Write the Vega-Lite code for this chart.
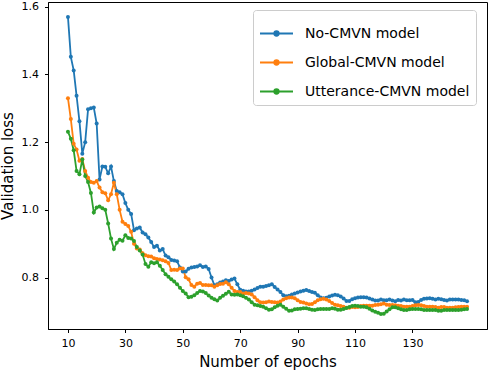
{
"$schema": "https://vega.github.io/schema/vega-lite/v6.json",
"width": 439, "height": 327,
"autosize": {"type": "none"},
"padding": {"left": 48, "top": 2, "right": 1, "bottom": 41},
"background": "white",
"config": {
  "font": "DejaVu Sans",
  "view": {"stroke": "black", "strokeWidth": 1},
  "axis": {"grid": false, "domainColor": "black", "domainWidth": 1, "tickColor": "black", "tickWidth": 1, "tickSize": 3.5, "labelColor": "black", "titleColor": "black", "labelFontSize": 11, "titleFontSize": 15, "titleFontWeight": "normal", "labelFont": "DejaVu Sans", "titleFont": "DejaVu Sans", "labelFlush": false, "labelOverlap": false}
},
"data": {"values": [
{"epoch":10,"model":"No-CMVN model","loss":1.570},{"epoch":11,"model":"No-CMVN model","loss":1.452},{"epoch":12,"model":"No-CMVN model","loss":1.412},{"epoch":13,"model":"No-CMVN model","loss":1.337},{"epoch":14,"model":"No-CMVN model","loss":1.262},{"epoch":15,"model":"No-CMVN model","loss":1.166},{"epoch":16,"model":"No-CMVN model","loss":1.200},{"epoch":17,"model":"No-CMVN model","loss":1.297},{"epoch":18,"model":"No-CMVN model","loss":1.300},{"epoch":19,"model":"No-CMVN model","loss":1.302},
{"epoch":20,"model":"No-CMVN model","loss":1.255},{"epoch":21,"model":"No-CMVN model","loss":1.090},{"epoch":22,"model":"No-CMVN model","loss":1.128},{"epoch":23,"model":"No-CMVN model","loss":1.127},{"epoch":24,"model":"No-CMVN model","loss":1.108},{"epoch":25,"model":"No-CMVN model","loss":1.128},{"epoch":26,"model":"No-CMVN model","loss":1.085},{"epoch":27,"model":"No-CMVN model","loss":1.056},{"epoch":28,"model":"No-CMVN model","loss":1.052},{"epoch":29,"model":"No-CMVN model","loss":1.046},
{"epoch":30,"model":"No-CMVN model","loss":1.020},{"epoch":31,"model":"No-CMVN model","loss":1.000},{"epoch":32,"model":"No-CMVN model","loss":0.988},{"epoch":33,"model":"No-CMVN model","loss":0.940},{"epoch":34,"model":"No-CMVN model","loss":0.945},{"epoch":35,"model":"No-CMVN model","loss":0.948},{"epoch":36,"model":"No-CMVN model","loss":0.933},{"epoch":37,"model":"No-CMVN model","loss":0.928},{"epoch":38,"model":"No-CMVN model","loss":0.918},{"epoch":39,"model":"No-CMVN model","loss":0.905},
{"epoch":40,"model":"No-CMVN model","loss":0.890},{"epoch":41,"model":"No-CMVN model","loss":0.894},{"epoch":42,"model":"No-CMVN model","loss":0.880},{"epoch":43,"model":"No-CMVN model","loss":0.884},{"epoch":44,"model":"No-CMVN model","loss":0.865},{"epoch":45,"model":"No-CMVN model","loss":0.860},{"epoch":46,"model":"No-CMVN model","loss":0.852},{"epoch":47,"model":"No-CMVN model","loss":0.850},{"epoch":48,"model":"No-CMVN model","loss":0.848},{"epoch":49,"model":"No-CMVN model","loss":0.830},
{"epoch":50,"model":"No-CMVN model","loss":0.818},{"epoch":51,"model":"No-CMVN model","loss":0.818},{"epoch":52,"model":"No-CMVN model","loss":0.826},{"epoch":53,"model":"No-CMVN model","loss":0.830},{"epoch":54,"model":"No-CMVN model","loss":0.831},{"epoch":55,"model":"No-CMVN model","loss":0.833},{"epoch":56,"model":"No-CMVN model","loss":0.836},{"epoch":57,"model":"No-CMVN model","loss":0.831},{"epoch":58,"model":"No-CMVN model","loss":0.833},{"epoch":59,"model":"No-CMVN model","loss":0.825},
{"epoch":60,"model":"No-CMVN model","loss":0.800},{"epoch":61,"model":"No-CMVN model","loss":0.777},{"epoch":62,"model":"No-CMVN model","loss":0.780},{"epoch":63,"model":"No-CMVN model","loss":0.785},{"epoch":64,"model":"No-CMVN model","loss":0.788},{"epoch":65,"model":"No-CMVN model","loss":0.792},{"epoch":66,"model":"No-CMVN model","loss":0.790},{"epoch":67,"model":"No-CMVN model","loss":0.794},{"epoch":68,"model":"No-CMVN model","loss":0.797},{"epoch":69,"model":"No-CMVN model","loss":0.780},
{"epoch":70,"model":"No-CMVN model","loss":0.764},{"epoch":71,"model":"No-CMVN model","loss":0.761},{"epoch":72,"model":"No-CMVN model","loss":0.759},{"epoch":73,"model":"No-CMVN model","loss":0.759},{"epoch":74,"model":"No-CMVN model","loss":0.761},{"epoch":75,"model":"No-CMVN model","loss":0.765},{"epoch":76,"model":"No-CMVN model","loss":0.769},{"epoch":77,"model":"No-CMVN model","loss":0.773},{"epoch":78,"model":"No-CMVN model","loss":0.773},{"epoch":79,"model":"No-CMVN model","loss":0.775},
{"epoch":80,"model":"No-CMVN model","loss":0.777},{"epoch":81,"model":"No-CMVN model","loss":0.780},{"epoch":82,"model":"No-CMVN model","loss":0.772},{"epoch":83,"model":"No-CMVN model","loss":0.765},{"epoch":84,"model":"No-CMVN model","loss":0.757},{"epoch":85,"model":"No-CMVN model","loss":0.748},{"epoch":86,"model":"No-CMVN model","loss":0.745},{"epoch":87,"model":"No-CMVN model","loss":0.746},{"epoch":88,"model":"No-CMVN model","loss":0.750},{"epoch":89,"model":"No-CMVN model","loss":0.753},
{"epoch":90,"model":"No-CMVN model","loss":0.756},{"epoch":91,"model":"No-CMVN model","loss":0.759},{"epoch":92,"model":"No-CMVN model","loss":0.761},{"epoch":93,"model":"No-CMVN model","loss":0.763},{"epoch":94,"model":"No-CMVN model","loss":0.760},{"epoch":95,"model":"No-CMVN model","loss":0.757},{"epoch":96,"model":"No-CMVN model","loss":0.755},{"epoch":97,"model":"No-CMVN model","loss":0.748},{"epoch":98,"model":"No-CMVN model","loss":0.741},{"epoch":99,"model":"No-CMVN model","loss":0.739},
{"epoch":100,"model":"No-CMVN model","loss":0.740},{"epoch":101,"model":"No-CMVN model","loss":0.744},{"epoch":102,"model":"No-CMVN model","loss":0.747},{"epoch":103,"model":"No-CMVN model","loss":0.749},{"epoch":104,"model":"No-CMVN model","loss":0.748},{"epoch":105,"model":"No-CMVN model","loss":0.744},{"epoch":106,"model":"No-CMVN model","loss":0.738},{"epoch":107,"model":"No-CMVN model","loss":0.731},{"epoch":108,"model":"No-CMVN model","loss":0.731},{"epoch":109,"model":"No-CMVN model","loss":0.736},
{"epoch":110,"model":"No-CMVN model","loss":0.739},{"epoch":111,"model":"No-CMVN model","loss":0.741},{"epoch":112,"model":"No-CMVN model","loss":0.742},{"epoch":113,"model":"No-CMVN model","loss":0.742},{"epoch":114,"model":"No-CMVN model","loss":0.741},{"epoch":115,"model":"No-CMVN model","loss":0.738},{"epoch":116,"model":"No-CMVN model","loss":0.735},{"epoch":117,"model":"No-CMVN model","loss":0.732},{"epoch":118,"model":"No-CMVN model","loss":0.732},{"epoch":119,"model":"No-CMVN model","loss":0.735},
{"epoch":120,"model":"No-CMVN model","loss":0.733},{"epoch":121,"model":"No-CMVN model","loss":0.733},{"epoch":122,"model":"No-CMVN model","loss":0.735},{"epoch":123,"model":"No-CMVN model","loss":0.732},{"epoch":124,"model":"No-CMVN model","loss":0.730},{"epoch":125,"model":"No-CMVN model","loss":0.734},{"epoch":126,"model":"No-CMVN model","loss":0.732},{"epoch":127,"model":"No-CMVN model","loss":0.735},{"epoch":128,"model":"No-CMVN model","loss":0.733},{"epoch":129,"model":"No-CMVN model","loss":0.733},
{"epoch":130,"model":"No-CMVN model","loss":0.734},{"epoch":131,"model":"No-CMVN model","loss":0.727},{"epoch":132,"model":"No-CMVN model","loss":0.728},{"epoch":133,"model":"No-CMVN model","loss":0.734},{"epoch":134,"model":"No-CMVN model","loss":0.737},{"epoch":135,"model":"No-CMVN model","loss":0.738},{"epoch":136,"model":"No-CMVN model","loss":0.739},{"epoch":137,"model":"No-CMVN model","loss":0.737},{"epoch":138,"model":"No-CMVN model","loss":0.735},{"epoch":139,"model":"No-CMVN model","loss":0.737},
{"epoch":140,"model":"No-CMVN model","loss":0.736},{"epoch":141,"model":"No-CMVN model","loss":0.734},{"epoch":142,"model":"No-CMVN model","loss":0.732},{"epoch":143,"model":"No-CMVN model","loss":0.735},{"epoch":144,"model":"No-CMVN model","loss":0.735},{"epoch":145,"model":"No-CMVN model","loss":0.735},{"epoch":146,"model":"No-CMVN model","loss":0.735},{"epoch":147,"model":"No-CMVN model","loss":0.734},{"epoch":148,"model":"No-CMVN model","loss":0.733},{"epoch":149,"model":"No-CMVN model","loss":0.730},
{"epoch":10,"model":"Global-CMVN model","loss":1.330},{"epoch":11,"model":"Global-CMVN model","loss":1.268},{"epoch":12,"model":"Global-CMVN model","loss":1.195},{"epoch":13,"model":"Global-CMVN model","loss":1.178},{"epoch":14,"model":"Global-CMVN model","loss":1.145},{"epoch":15,"model":"Global-CMVN model","loss":1.150},{"epoch":16,"model":"Global-CMVN model","loss":1.115},{"epoch":17,"model":"Global-CMVN model","loss":1.095},{"epoch":18,"model":"Global-CMVN model","loss":1.082},{"epoch":19,"model":"Global-CMVN model","loss":1.080},
{"epoch":20,"model":"Global-CMVN model","loss":1.085},{"epoch":21,"model":"Global-CMVN model","loss":1.066},{"epoch":22,"model":"Global-CMVN model","loss":1.052},{"epoch":23,"model":"Global-CMVN model","loss":1.049},{"epoch":24,"model":"Global-CMVN model","loss":1.028},{"epoch":25,"model":"Global-CMVN model","loss":1.046},{"epoch":26,"model":"Global-CMVN model","loss":1.080},{"epoch":27,"model":"Global-CMVN model","loss":1.046},{"epoch":28,"model":"Global-CMVN model","loss":1.000},{"epoch":29,"model":"Global-CMVN model","loss":0.965},
{"epoch":30,"model":"Global-CMVN model","loss":0.958},{"epoch":31,"model":"Global-CMVN model","loss":0.952},{"epoch":32,"model":"Global-CMVN model","loss":0.935},{"epoch":33,"model":"Global-CMVN model","loss":0.900},{"epoch":34,"model":"Global-CMVN model","loss":0.886},{"epoch":35,"model":"Global-CMVN model","loss":0.883},{"epoch":36,"model":"Global-CMVN model","loss":0.872},{"epoch":37,"model":"Global-CMVN model","loss":0.866},{"epoch":38,"model":"Global-CMVN model","loss":0.863},{"epoch":39,"model":"Global-CMVN model","loss":0.862},
{"epoch":40,"model":"Global-CMVN model","loss":0.857},{"epoch":41,"model":"Global-CMVN model","loss":0.855},{"epoch":42,"model":"Global-CMVN model","loss":0.853},{"epoch":43,"model":"Global-CMVN model","loss":0.851},{"epoch":44,"model":"Global-CMVN model","loss":0.848},{"epoch":45,"model":"Global-CMVN model","loss":0.843},{"epoch":46,"model":"Global-CMVN model","loss":0.822},{"epoch":47,"model":"Global-CMVN model","loss":0.823},{"epoch":48,"model":"Global-CMVN model","loss":0.822},{"epoch":49,"model":"Global-CMVN model","loss":0.827},
{"epoch":50,"model":"Global-CMVN model","loss":0.827},{"epoch":51,"model":"Global-CMVN model","loss":0.801},{"epoch":52,"model":"Global-CMVN model","loss":0.795},{"epoch":53,"model":"Global-CMVN model","loss":0.778},{"epoch":54,"model":"Global-CMVN model","loss":0.773},{"epoch":55,"model":"Global-CMVN model","loss":0.782},{"epoch":56,"model":"Global-CMVN model","loss":0.784},{"epoch":57,"model":"Global-CMVN model","loss":0.778},{"epoch":58,"model":"Global-CMVN model","loss":0.778},{"epoch":59,"model":"Global-CMVN model","loss":0.777},
{"epoch":60,"model":"Global-CMVN model","loss":0.777},{"epoch":61,"model":"Global-CMVN model","loss":0.773},{"epoch":62,"model":"Global-CMVN model","loss":0.777},{"epoch":63,"model":"Global-CMVN model","loss":0.781},{"epoch":64,"model":"Global-CMVN model","loss":0.782},{"epoch":65,"model":"Global-CMVN model","loss":0.786},{"epoch":66,"model":"Global-CMVN model","loss":0.780},{"epoch":67,"model":"Global-CMVN model","loss":0.770},{"epoch":68,"model":"Global-CMVN model","loss":0.760},{"epoch":69,"model":"Global-CMVN model","loss":0.757},
{"epoch":70,"model":"Global-CMVN model","loss":0.757},{"epoch":71,"model":"Global-CMVN model","loss":0.753},{"epoch":72,"model":"Global-CMVN model","loss":0.754},{"epoch":73,"model":"Global-CMVN model","loss":0.753},{"epoch":74,"model":"Global-CMVN model","loss":0.750},{"epoch":75,"model":"Global-CMVN model","loss":0.742},{"epoch":76,"model":"Global-CMVN model","loss":0.733},{"epoch":77,"model":"Global-CMVN model","loss":0.727},{"epoch":78,"model":"Global-CMVN model","loss":0.726},{"epoch":79,"model":"Global-CMVN model","loss":0.727},
{"epoch":80,"model":"Global-CMVN model","loss":0.729},{"epoch":81,"model":"Global-CMVN model","loss":0.728},{"epoch":82,"model":"Global-CMVN model","loss":0.727},{"epoch":83,"model":"Global-CMVN model","loss":0.726},{"epoch":84,"model":"Global-CMVN model","loss":0.729},{"epoch":85,"model":"Global-CMVN model","loss":0.735},{"epoch":86,"model":"Global-CMVN model","loss":0.739},{"epoch":87,"model":"Global-CMVN model","loss":0.741},{"epoch":88,"model":"Global-CMVN model","loss":0.741},{"epoch":89,"model":"Global-CMVN model","loss":0.739},
{"epoch":90,"model":"Global-CMVN model","loss":0.733},{"epoch":91,"model":"Global-CMVN model","loss":0.728},{"epoch":92,"model":"Global-CMVN model","loss":0.726},{"epoch":93,"model":"Global-CMVN model","loss":0.723},{"epoch":94,"model":"Global-CMVN model","loss":0.721},{"epoch":95,"model":"Global-CMVN model","loss":0.722},{"epoch":96,"model":"Global-CMVN model","loss":0.727},{"epoch":97,"model":"Global-CMVN model","loss":0.733},{"epoch":98,"model":"Global-CMVN model","loss":0.736},{"epoch":99,"model":"Global-CMVN model","loss":0.737},
{"epoch":100,"model":"Global-CMVN model","loss":0.735},{"epoch":101,"model":"Global-CMVN model","loss":0.731},{"epoch":102,"model":"Global-CMVN model","loss":0.725},{"epoch":103,"model":"Global-CMVN model","loss":0.720},{"epoch":104,"model":"Global-CMVN model","loss":0.718},{"epoch":105,"model":"Global-CMVN model","loss":0.716},{"epoch":106,"model":"Global-CMVN model","loss":0.714},{"epoch":107,"model":"Global-CMVN model","loss":0.711},{"epoch":108,"model":"Global-CMVN model","loss":0.711},{"epoch":109,"model":"Global-CMVN model","loss":0.713},
{"epoch":110,"model":"Global-CMVN model","loss":0.712},{"epoch":111,"model":"Global-CMVN model","loss":0.713},{"epoch":112,"model":"Global-CMVN model","loss":0.716},{"epoch":113,"model":"Global-CMVN model","loss":0.717},{"epoch":114,"model":"Global-CMVN model","loss":0.717},{"epoch":115,"model":"Global-CMVN model","loss":0.717},{"epoch":116,"model":"Global-CMVN model","loss":0.717},{"epoch":117,"model":"Global-CMVN model","loss":0.719},{"epoch":118,"model":"Global-CMVN model","loss":0.720},{"epoch":119,"model":"Global-CMVN model","loss":0.721},
{"epoch":120,"model":"Global-CMVN model","loss":0.723},{"epoch":121,"model":"Global-CMVN model","loss":0.720},{"epoch":122,"model":"Global-CMVN model","loss":0.719},{"epoch":123,"model":"Global-CMVN model","loss":0.719},{"epoch":124,"model":"Global-CMVN model","loss":0.718},{"epoch":125,"model":"Global-CMVN model","loss":0.717},{"epoch":126,"model":"Global-CMVN model","loss":0.716},{"epoch":127,"model":"Global-CMVN model","loss":0.714},{"epoch":128,"model":"Global-CMVN model","loss":0.714},{"epoch":129,"model":"Global-CMVN model","loss":0.714},
{"epoch":130,"model":"Global-CMVN model","loss":0.716},{"epoch":131,"model":"Global-CMVN model","loss":0.718},{"epoch":132,"model":"Global-CMVN model","loss":0.719},{"epoch":133,"model":"Global-CMVN model","loss":0.718},{"epoch":134,"model":"Global-CMVN model","loss":0.716},{"epoch":135,"model":"Global-CMVN model","loss":0.714},{"epoch":136,"model":"Global-CMVN model","loss":0.714},{"epoch":137,"model":"Global-CMVN model","loss":0.714},{"epoch":138,"model":"Global-CMVN model","loss":0.713},{"epoch":139,"model":"Global-CMVN model","loss":0.711},
{"epoch":140,"model":"Global-CMVN model","loss":0.713},{"epoch":141,"model":"Global-CMVN model","loss":0.713},{"epoch":142,"model":"Global-CMVN model","loss":0.711},{"epoch":143,"model":"Global-CMVN model","loss":0.711},{"epoch":144,"model":"Global-CMVN model","loss":0.711},{"epoch":145,"model":"Global-CMVN model","loss":0.712},{"epoch":146,"model":"Global-CMVN model","loss":0.713},{"epoch":147,"model":"Global-CMVN model","loss":0.714},{"epoch":148,"model":"Global-CMVN model","loss":0.714},{"epoch":149,"model":"Global-CMVN model","loss":0.714},
{"epoch":10,"model":"Utterance-CMVN model","loss":1.231},{"epoch":11,"model":"Utterance-CMVN model","loss":1.210},{"epoch":12,"model":"Utterance-CMVN model","loss":1.176},{"epoch":13,"model":"Utterance-CMVN model","loss":1.115},{"epoch":14,"model":"Utterance-CMVN model","loss":1.105},{"epoch":15,"model":"Utterance-CMVN model","loss":1.149},{"epoch":16,"model":"Utterance-CMVN model","loss":1.100},{"epoch":17,"model":"Utterance-CMVN model","loss":1.082},{"epoch":18,"model":"Utterance-CMVN model","loss":1.050},{"epoch":19,"model":"Utterance-CMVN model","loss":0.992},
{"epoch":20,"model":"Utterance-CMVN model","loss":1.007},{"epoch":21,"model":"Utterance-CMVN model","loss":1.010},{"epoch":22,"model":"Utterance-CMVN model","loss":1.005},{"epoch":23,"model":"Utterance-CMVN model","loss":1.000},{"epoch":24,"model":"Utterance-CMVN model","loss":0.960},{"epoch":25,"model":"Utterance-CMVN model","loss":0.915},{"epoch":26,"model":"Utterance-CMVN model","loss":0.884},{"epoch":27,"model":"Utterance-CMVN model","loss":0.903},{"epoch":28,"model":"Utterance-CMVN model","loss":0.912},{"epoch":29,"model":"Utterance-CMVN model","loss":0.909},
{"epoch":30,"model":"Utterance-CMVN model","loss":0.925},{"epoch":31,"model":"Utterance-CMVN model","loss":0.917},{"epoch":32,"model":"Utterance-CMVN model","loss":0.915},{"epoch":33,"model":"Utterance-CMVN model","loss":0.908},{"epoch":34,"model":"Utterance-CMVN model","loss":0.890},{"epoch":35,"model":"Utterance-CMVN model","loss":0.880},{"epoch":36,"model":"Utterance-CMVN model","loss":0.868},{"epoch":37,"model":"Utterance-CMVN model","loss":0.840},{"epoch":38,"model":"Utterance-CMVN model","loss":0.832},{"epoch":39,"model":"Utterance-CMVN model","loss":0.845},
{"epoch":40,"model":"Utterance-CMVN model","loss":0.842},{"epoch":41,"model":"Utterance-CMVN model","loss":0.845},{"epoch":42,"model":"Utterance-CMVN model","loss":0.835},{"epoch":43,"model":"Utterance-CMVN model","loss":0.822},{"epoch":44,"model":"Utterance-CMVN model","loss":0.810},{"epoch":45,"model":"Utterance-CMVN model","loss":0.802},{"epoch":46,"model":"Utterance-CMVN model","loss":0.795},{"epoch":47,"model":"Utterance-CMVN model","loss":0.788},{"epoch":48,"model":"Utterance-CMVN model","loss":0.780},{"epoch":49,"model":"Utterance-CMVN model","loss":0.770},
{"epoch":50,"model":"Utterance-CMVN model","loss":0.760},{"epoch":51,"model":"Utterance-CMVN model","loss":0.753},{"epoch":52,"model":"Utterance-CMVN model","loss":0.742},{"epoch":53,"model":"Utterance-CMVN model","loss":0.743},{"epoch":54,"model":"Utterance-CMVN model","loss":0.748},{"epoch":55,"model":"Utterance-CMVN model","loss":0.754},{"epoch":56,"model":"Utterance-CMVN model","loss":0.760},{"epoch":57,"model":"Utterance-CMVN model","loss":0.759},{"epoch":58,"model":"Utterance-CMVN model","loss":0.754},{"epoch":59,"model":"Utterance-CMVN model","loss":0.747},
{"epoch":60,"model":"Utterance-CMVN model","loss":0.740},{"epoch":61,"model":"Utterance-CMVN model","loss":0.736},{"epoch":62,"model":"Utterance-CMVN model","loss":0.732},{"epoch":63,"model":"Utterance-CMVN model","loss":0.740},{"epoch":64,"model":"Utterance-CMVN model","loss":0.746},{"epoch":65,"model":"Utterance-CMVN model","loss":0.752},{"epoch":66,"model":"Utterance-CMVN model","loss":0.758},{"epoch":67,"model":"Utterance-CMVN model","loss":0.750},{"epoch":68,"model":"Utterance-CMVN model","loss":0.749},{"epoch":69,"model":"Utterance-CMVN model","loss":0.750},
{"epoch":70,"model":"Utterance-CMVN model","loss":0.748},{"epoch":71,"model":"Utterance-CMVN model","loss":0.745},{"epoch":72,"model":"Utterance-CMVN model","loss":0.740},{"epoch":73,"model":"Utterance-CMVN model","loss":0.735},{"epoch":74,"model":"Utterance-CMVN model","loss":0.727},{"epoch":75,"model":"Utterance-CMVN model","loss":0.720},{"epoch":76,"model":"Utterance-CMVN model","loss":0.718},{"epoch":77,"model":"Utterance-CMVN model","loss":0.716},{"epoch":78,"model":"Utterance-CMVN model","loss":0.714},{"epoch":79,"model":"Utterance-CMVN model","loss":0.709},
{"epoch":80,"model":"Utterance-CMVN model","loss":0.705},{"epoch":81,"model":"Utterance-CMVN model","loss":0.706},{"epoch":82,"model":"Utterance-CMVN model","loss":0.712},{"epoch":83,"model":"Utterance-CMVN model","loss":0.717},{"epoch":84,"model":"Utterance-CMVN model","loss":0.720},{"epoch":85,"model":"Utterance-CMVN model","loss":0.714},{"epoch":86,"model":"Utterance-CMVN model","loss":0.708},{"epoch":87,"model":"Utterance-CMVN model","loss":0.702},{"epoch":88,"model":"Utterance-CMVN model","loss":0.703},{"epoch":89,"model":"Utterance-CMVN model","loss":0.706},
{"epoch":90,"model":"Utterance-CMVN model","loss":0.707},{"epoch":91,"model":"Utterance-CMVN model","loss":0.708},{"epoch":92,"model":"Utterance-CMVN model","loss":0.709},{"epoch":93,"model":"Utterance-CMVN model","loss":0.709},{"epoch":94,"model":"Utterance-CMVN model","loss":0.707},{"epoch":95,"model":"Utterance-CMVN model","loss":0.705},{"epoch":96,"model":"Utterance-CMVN model","loss":0.704},{"epoch":97,"model":"Utterance-CMVN model","loss":0.706},{"epoch":98,"model":"Utterance-CMVN model","loss":0.707},{"epoch":99,"model":"Utterance-CMVN model","loss":0.707},
{"epoch":100,"model":"Utterance-CMVN model","loss":0.707},{"epoch":101,"model":"Utterance-CMVN model","loss":0.707},{"epoch":102,"model":"Utterance-CMVN model","loss":0.709},{"epoch":103,"model":"Utterance-CMVN model","loss":0.708},{"epoch":104,"model":"Utterance-CMVN model","loss":0.705},{"epoch":105,"model":"Utterance-CMVN model","loss":0.705},{"epoch":106,"model":"Utterance-CMVN model","loss":0.707},{"epoch":107,"model":"Utterance-CMVN model","loss":0.710},{"epoch":108,"model":"Utterance-CMVN model","loss":0.713},{"epoch":109,"model":"Utterance-CMVN model","loss":0.716},
{"epoch":110,"model":"Utterance-CMVN model","loss":0.717},{"epoch":111,"model":"Utterance-CMVN model","loss":0.716},{"epoch":112,"model":"Utterance-CMVN model","loss":0.714},{"epoch":113,"model":"Utterance-CMVN model","loss":0.714},{"epoch":114,"model":"Utterance-CMVN model","loss":0.712},{"epoch":115,"model":"Utterance-CMVN model","loss":0.708},{"epoch":116,"model":"Utterance-CMVN model","loss":0.703},{"epoch":117,"model":"Utterance-CMVN model","loss":0.699},{"epoch":118,"model":"Utterance-CMVN model","loss":0.696},{"epoch":119,"model":"Utterance-CMVN model","loss":0.692},
{"epoch":120,"model":"Utterance-CMVN model","loss":0.693},{"epoch":121,"model":"Utterance-CMVN model","loss":0.700},{"epoch":122,"model":"Utterance-CMVN model","loss":0.706},{"epoch":123,"model":"Utterance-CMVN model","loss":0.712},{"epoch":124,"model":"Utterance-CMVN model","loss":0.712},{"epoch":125,"model":"Utterance-CMVN model","loss":0.709},{"epoch":126,"model":"Utterance-CMVN model","loss":0.706},{"epoch":127,"model":"Utterance-CMVN model","loss":0.704},{"epoch":128,"model":"Utterance-CMVN model","loss":0.704},{"epoch":129,"model":"Utterance-CMVN model","loss":0.706},
{"epoch":130,"model":"Utterance-CMVN model","loss":0.707},{"epoch":131,"model":"Utterance-CMVN model","loss":0.707},{"epoch":132,"model":"Utterance-CMVN model","loss":0.707},{"epoch":133,"model":"Utterance-CMVN model","loss":0.706},{"epoch":134,"model":"Utterance-CMVN model","loss":0.704},{"epoch":135,"model":"Utterance-CMVN model","loss":0.704},{"epoch":136,"model":"Utterance-CMVN model","loss":0.704},{"epoch":137,"model":"Utterance-CMVN model","loss":0.704},{"epoch":138,"model":"Utterance-CMVN model","loss":0.704},{"epoch":139,"model":"Utterance-CMVN model","loss":0.702},
{"epoch":140,"model":"Utterance-CMVN model","loss":0.702},{"epoch":141,"model":"Utterance-CMVN model","loss":0.704},{"epoch":142,"model":"Utterance-CMVN model","loss":0.704},{"epoch":143,"model":"Utterance-CMVN model","loss":0.704},{"epoch":144,"model":"Utterance-CMVN model","loss":0.704},{"epoch":145,"model":"Utterance-CMVN model","loss":0.704},{"epoch":146,"model":"Utterance-CMVN model","loss":0.704},{"epoch":147,"model":"Utterance-CMVN model","loss":0.705},{"epoch":148,"model":"Utterance-CMVN model","loss":0.706},{"epoch":149,"model":"Utterance-CMVN model","loss":0.707}
]},
"mark": {"type": "line", "strokeWidth": 1.8, "point": {"filled": true, "size": 16}},
"encoding": {
  "x": {"field": "epoch", "type": "quantitative", "scale": {"domain": [3.05, 155.95], "nice": false, "zero": false},
        "axis": {"values": [10, 30, 50, 70, 90, 110, 130], "title": "Number of epochs", "labelPadding": 5, "titlePadding": 6}},
  "y": {"field": "loss", "type": "quantitative", "scale": {"domain": [0.648, 1.614], "nice": false, "zero": false},
        "axis": {"values": [0.8, 1.0, 1.2, 1.4, 1.6], "format": ".1f", "title": "Validation loss", "labelPadding": 6, "titlePadding": 6}},
  "color": {"field": "model", "type": "nominal",
    "scale": {"domain": ["No-CMVN model", "Global-CMVN model", "Utterance-CMVN model"], "range": ["#1f77b4", "#ff7f0e", "#2ca02c"]},
    "legend": {"orient": "none", "legendX": 205, "legendY": 8, "title": null, "labelFontSize": 14, "labelFont": "DejaVu Sans", "labelColor": "black", "labelLimit": 400,
      "symbolType": "M-1,0H1M-0.13,0A0.13,0.13 0 1,0 0.13,0A0.13,0.13 0 1,0 -0.13,0Z", "symbolSize": 1089, "symbolStrokeWidth": 2,
      "labelOffset": 11, "padding": 6, "rowPadding": 4, "strokeColor": "#cccccc", "fillColor": "white", "cornerRadius": 3,
      "encode": {"symbols": {"update": {"fill": {"scale": "color", "field": "value"}, "stroke": {"scale": "color", "field": "value"}, "opacity": {"value": 1}}}}}
  }
}
}
